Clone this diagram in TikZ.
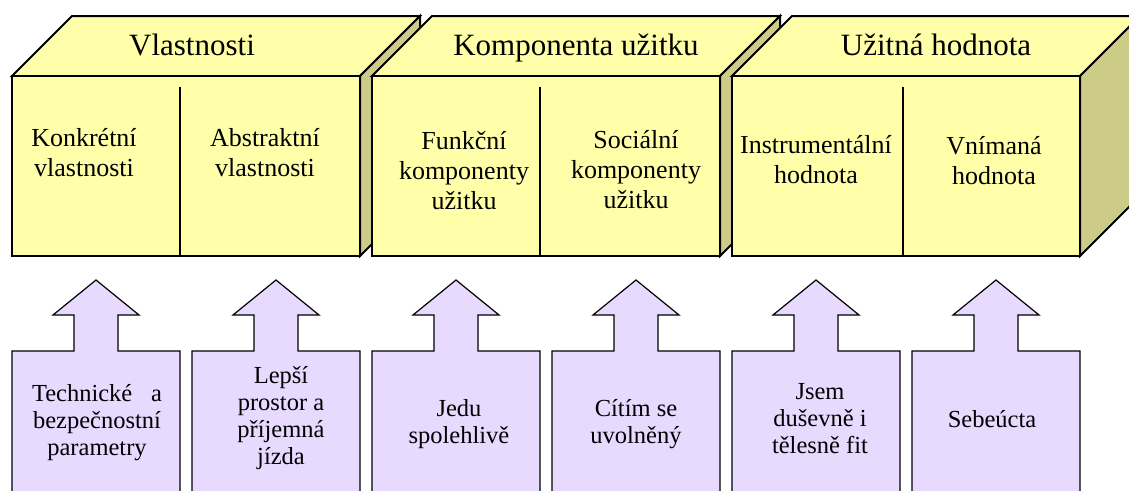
\documentclass[tikz,border=0pt]{standalone}
\usepackage{fontspec}
\setmainfont{Liberation Serif}

\definecolor{facey}{RGB}{255,255,170}
\definecolor{sidey}{RGB}{204,204,136}
\definecolor{lav}{RGB}{232,218,255}

% one box of the value chain: front face at x=#1, depth 60
\newcommand\valuecube[2]{%
  \path[cubeline, fill=facey] (#1,76) -- (#1+60,16) -- (#1+408,16) -- (#1+348,76) -- cycle;
  \path[cubeline, fill=sidey] (#1+348,76) -- (#1+408,16) -- (#1+408,196) -- (#1+348,256) -- cycle;
  \path[cubeline, fill=facey] (#1,76) rectangle (#1+348,256);
  \draw[divider] (#2,87) -- (#2,256);
}

% a box with an up-pointing block arrow on top, left edge at x=#1
\newcommand\causearrow[1]{%
  \path[blockarrow] (#1,500) -- (#1,351) -- (#1+62,351) -- (#1+62,315) -- (#1+41,315)
    -- (#1+84,280) -- (#1+127,315) -- (#1+106,315) -- (#1+106,351) -- (#1+168,351)
    -- (#1+168,500) -- cycle;
}

\begin{document}
\begin{tikzpicture}[x=1pt, y=-1pt,
  cubeline/.style={draw=black, line width=2pt, line join=miter},
  divider/.style={draw=black, line width=1.4pt},
  blockarrow/.style={draw=black, fill=lav, line width=1.2pt, line join=miter},
  title/.style={font=\fontsize{31}{36}\selectfont, anchor=base, inner sep=0pt},
  celltext/.style={font=\fontsize{26}{30}\selectfont, align=center, anchor=base, inner sep=0pt},
  cause/.style={font=\fontsize{24.5}{27}\selectfont, align=center, anchor=base, inner sep=0pt}]

  \useasboundingbox (0,0) rectangle (1129,490);
  \fill[white] (0,0) rectangle (1129,490);
  \clip (0,0) rectangle (1129,490);

  % the three boxes
  \valuecube{12}{180}
  \valuecube{372}{540}
  \valuecube{732}{903}

  \node[title] (t1) at (192,55) {Vlastnosti};
  \node[title] (t2) at (576,55) {Komponenta užitku};
  \node[title] (t3) at (936,55) {Užitná hodnota};

  % node positions give the baseline of the last line
  \node[celltext] (c1) at (84,176)  {Konkrétní\\vlastnosti};
  \node[celltext] (c2) at (265,176) {Abstraktní\\vlastnosti};
  \node[celltext] (c3) at (464,209) {Funkční\\komponenty\\užitku};
  \node[celltext] (c4) at (636,208) {Sociální\\komponenty\\užitku};
  \node[celltext] (c5) at (816,183) {Instrumentální\\hodnota};
  \node[celltext] (c6) at (994,184) {Vnímaná\\hodnota};

  % the six arrows below
  \causearrow{12}
  \causearrow{192}
  \causearrow{372}
  \causearrow{552}
  \causearrow{732}
  \causearrow{912}

  \node[cause] (b1) at (97,455)  {\makebox[130pt]{Technické\hfill a}\\bezpečnostní\\parametry};
  \node[cause] (b2) at (281,464) {Lepší\\prostor a\\příjemná\\jízda};
  \node[cause] (b3) at (459,443) {Jedu\\spolehlivě};
  \node[cause] (b4) at (636,443) {Cítím se\\uvolněný};
  \node[cause] (b5) at (820,453) {Jsem\\duševně i\\tělesně fit};
  \node[cause] (b6) at (992,427) {Sebeúcta};
\end{tikzpicture}
\end{document}
